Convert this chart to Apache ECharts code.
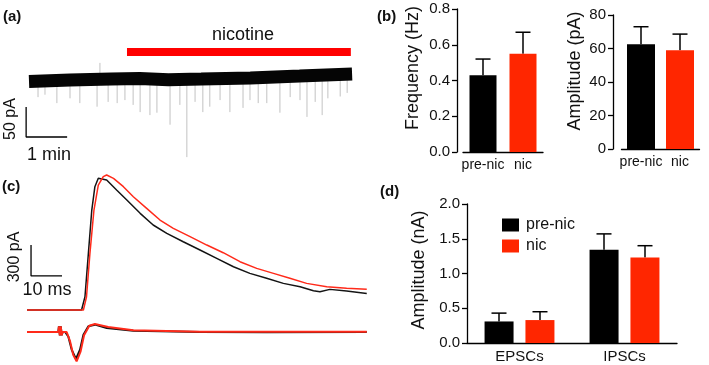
<!DOCTYPE html>
<html>
<head>
<meta charset="utf-8">
<script src="https://cdn.jsdelivr.net/npm/echarts@6/dist/echarts.min.js"></script>
<style>
  html, body { margin: 0; padding: 0; background: #fff; }
  #chart { width: 709px; height: 365px; }
</style>
</head>
<body>
<div id="chart"></div>
<script>
// ---- (a) spontaneous trace: time in min, current in pA ----
const bandTime = [0, 1, 2, 2.7, 3.4, 4.2, 5.4, 6.6, 7.88]
const bandLevel = [0, 2.5, 4, 5, 3, 4, 6, 9, 12.5]
// downward events [time (min), tip (pA)]
const spikes = [
  [0.22, -26], [0.39, -22], [0.68, -36], [1.0, -28], [1.24, -36], [1.66, -42], [1.73, 31],
  [1.93, -34], [2.15, -36], [2.34, -31], [2.54, -39], [2.71, -51], [2.95, -56], [3.12, -52],
  [3.44, -72], [3.68, -39], [3.85, -126], [4.05, -34], [4.24, -51], [4.41, -42], [4.66, -31],
  [4.90, -51], [5.22, -44], [5.39, -31], [5.59, -36], [5.80, -36], [6.12, -52], [6.37, -26],
  [6.61, -31], [6.78, -59], [6.98, -34], [7.15, -56], [7.29, -28], [7.59, -25], [7.76, -19]
]
const nicotineOn = [2.39, 7.85]

// ---- (b) mean ± SEM ----
const conds = ['pre-nic', 'nic']
const freqMean = [0.43, 0.55]
const freqSem = [0.09, 0.12]
const ampMean = [62.5, 59]
const ampSem = [10.5, 9.6]

// ---- (c) averaged traces: time in ms, current in pA ----
const ipscPreT = [0, 17.6, 18.7, 19.8, 20.9, 21.9, 23.0, 23.5, 25.7, 28.9, 32.2, 36.5, 40.7, 45.1, 50.4, 55.8, 61.2, 66.6, 71.9, 77.3, 82.7, 88.1, 92.4, 94.5, 97.7, 103.1, 109.6]
const ipscPreV = [0, 0, 129, 549, 968, 1194, 1275, 1291, 1258, 1162, 1065, 936, 823, 742, 661, 581, 500, 419, 355, 307, 258, 226, 187, 177, 200, 184, 161]
const ipscNicT = [0, 18.2, 19.2, 20.3, 21.6, 23.0, 24.6, 25.7, 27.9, 31.1, 34.3, 38.6, 42.9, 47.2, 52.6, 58.0, 63.3, 68.7, 74.1, 79.5, 84.8, 90.2, 96.7, 103.1, 109.6]
const ipscNicV = [0, 0, 129, 549, 968, 1210, 1291, 1307, 1275, 1194, 1097, 984, 871, 791, 710, 629, 555, 468, 403, 355, 307, 258, 226, 210, 200]
const epscPreT = [0, 10.1, 10.3, 10.6, 10.9, 11.2, 11.5, 12.3, 13.3, 14.4, 15.8, 17.1, 18.2, 19.8, 21.9, 25.7, 34.3, 55.8, 77.3, 109.6]
const epscPreV = [0, 0, 55, -32, 55, -32, 0, 0, -42, -171, -262, -171, -26, 55, 71, 39, 13, 0, -3, 0]
const epscNicT = [0, 10.1, 10.3, 10.6, 10.9, 11.2, 11.5, 12.8, 13.9, 14.9, 16.0, 17.3, 18.4, 20.1, 21.9, 26.2, 34.3, 55.8, 109.6]
const epscNicV = [0, 0, 55, -32, 55, -32, 0, 0, -91, -220, -284, -188, -32, 61, 77, 48, 16, 3, 3]

// ---- (d) mean ± SEM ----
const types = ['EPSCs', 'IPSCs']
const preMean = [0.31, 1.34]
const preSem = [0.12, 0.23]
const nicMean = [0.33, 1.23]
const nicSem = [0.12, 0.17]

const BLACK = '#000000'
const RED = '#ff2600'
const FONT = '"Liberation Sans", Arial, sans-serif'

const chart = echarts.init(document.getElementById('chart'))

const zip = (a, b) => a.map((v, i) => [v, b[i]])

const hiddenAxis = (grid, min, max) => ({ type: 'value', gridIndex: grid, min, max, show: false })

const catAxis = (grid, data, size) => ({
  type: 'category', gridIndex: grid, data,
  axisLine: { lineStyle: { color: '#000', width: 1.3 } },
  axisTick: { alignWithLabel: true, length: 4, lineStyle: { color: '#000', width: 1.3 } },
  axisLabel: { color: '#111', fontSize: size, fontFamily: FONT, margin: 6, interval: 0, hideOverlap: false }
})

const valAxis = (grid, max, interval, digits, offset) => ({
  type: 'value', gridIndex: grid, min: 0, max, interval, offset,
  splitLine: { show: false },
  axisLine: { show: true, lineStyle: { color: '#000', width: 1.3 } },
  axisTick: { show: true, length: 5, lineStyle: { color: '#000', width: 1.3 } },
  axisLabel: { color: '#111', fontSize: 15, fontFamily: FONT, margin: 7, formatter: v => v.toFixed(digits) }
})

function errSeries (xi, mean, sem, shift) {
  return {
    type: 'custom', xAxisIndex: xi, yAxisIndex: xi, silent: true,
    data: mean.map((m, i) => [i, m, m + sem[i]]),
    renderItem: (params, api) => {
      const base = api.coord([api.value(0), api.value(1)])
      const top = api.coord([api.value(0), api.value(2)])
      const x = base[0] + shift
      const st = { stroke: '#000', lineWidth: 1.5 }
      return {
        type: 'group',
        children: [
          { type: 'line', shape: { x1: x, y1: base[1], x2: x, y2: top[1] }, style: st },
          { type: 'line', shape: { x1: x - 7.5, y1: top[1], x2: x + 7.5, y2: top[1] }, style: st }
        ]
      }
    }
  }
}

const plainLine = (xi, data, color, width) => ({
  type: 'line', xAxisIndex: xi, yAxisIndex: xi, data, showSymbol: false, silent: true,
  lineStyle: { color, width }
})

function txt (x, y, text, size, opts = {}) {
  return {
    type: 'text', x, y, rotation: opts.rot || 0,
    style: {
      text, fill: '#111', fontSize: size, fontFamily: FONT, fontWeight: opts.bold ? 'bold' : 'normal',
      align: opts.align || 'center', verticalAlign: 'middle',
      textAlign: opts.align || 'center', textVerticalAlign: 'middle'
    }
  }
}

const option = {
  animation: false,
  grid: [
    { left: 24.9, top: 21.5, width: 332.1, height: 150 },
    { left: 463, top: 9, width: 80, height: 143 },
    { left: 621.5, top: 15, width: 78, height: 134 },
    { left: 27, top: 165.4, width: 341, height: 149.8 },
    { left: 27, top: 319.6, width: 341, height: 45.5 },
    { left: 467, top: 204, width: 210, height: 139 }
  ],
  xAxis: [
    hiddenAxis(0, -0.1, 8),
    catAxis(1, conds, 14),
    catAxis(2, conds, 14),
    hiddenAxis(3, 0, 110),
    hiddenAxis(4, 0, 110),
    catAxis(5, types, 15)
  ],
  yAxis: [
    hiddenAxis(0, -150, 100),
    valAxis(1, 0.8, 0.2, 1, 6),
    valAxis(2, 80, 20, 0, 8.5),
    hiddenAxis(3, -50, 1400),
    hiddenAxis(4, -320, 120),
    valAxis(5, 2, 0.5, 1, 0)
  ],
  legend: {
    data: ['pre-nic', 'nic'], orient: 'vertical', left: 497, top: 212,
    itemWidth: 17, itemHeight: 13, itemGap: 5, icon: 'rect',
    textStyle: { color: '#111', fontSize: 16, fontFamily: FONT, padding: [0, 0, 0, 2] }
  },
  graphic: [
    txt(3, 17, '(a)', 15, { bold: true, align: 'left' }),
    txt(377, 17, '(b)', 15, { bold: true, align: 'left' }),
    txt(2, 187, '(c)', 15, { bold: true, align: 'left' }),
    txt(380, 192, '(d)', 15, { bold: true, align: 'left' }),
    txt(243, 35, 'nicotine', 18),
    txt(11, 119, '50 pA', 16, { rot: Math.PI / 2 }),
    txt(49, 155, '1 min', 18),
    txt(15, 257, '300 pA', 16, { rot: Math.PI / 2 }),
    txt(47, 290, '10 ms', 18),
    txt(413, 68, 'Frequency (Hz)', 18, { rot: Math.PI / 2 }),
    txt(575, 71, 'Amplitude (pA)', 18, { rot: Math.PI / 2 }),
    txt(419, 270, 'Amplitude (nA)', 18, { rot: Math.PI / 2 })
  ],
  series: [
    // (a)
    {
      type: 'custom', xAxisIndex: 0, yAxisIndex: 0, silent: true, data: spikes,
      renderItem: (params, api) => {
        const a = api.coord([api.value(0), 5])
        const b = api.coord([api.value(0), api.value(1)])
        return { type: 'line', shape: { x1: a[0], y1: a[1], x2: b[0], y2: b[1] }, style: { stroke: '#a8a8a8', lineWidth: 0.7 } }
      }
    },
    plainLine(0, zip(bandTime, bandLevel), '#050505', 13),
    plainLine(0, nicotineOn.map(t => [t, 49]), '#ff0000', 8),
    plainLine(0, [[-0.07, -42.5], [-0.07, -92.5], [0.93, -92.5]], '#000', 1.3),
    // (b)
    {
      type: 'bar', name: 'freq', xAxisIndex: 1, yAxisIndex: 1, barWidth: 27,
      data: freqMean.map((v, i) => ({ value: v, itemStyle: { color: i ? RED : BLACK } }))
    },
    errSeries(1, freqMean, freqSem, 0),
    {
      type: 'bar', name: 'amp', xAxisIndex: 2, yAxisIndex: 2, barWidth: 28,
      data: ampMean.map((v, i) => ({ value: v, itemStyle: { color: i ? RED : BLACK } }))
    },
    errSeries(2, ampMean, ampSem, 0),
    // (c)
    plainLine(3, zip(ipscPreT, ipscPreV), '#141414', 1.5),
    plainLine(3, zip(ipscNicT, ipscNicV), '#ff2a1a', 1.5),
    plainLine(4, zip(epscPreT, epscPreV), '#141414', 2),
    plainLine(4, zip(epscNicT, epscNicV), '#ff2a1a', 2),
    plainLine(3, [[1.3, 630], [1.3, 330], [11.3, 330]], '#000', 1.3),
    // (d)
    {
      type: 'bar', name: 'pre-nic', xAxisIndex: 5, yAxisIndex: 5, barWidth: 29, barGap: '41%',
      itemStyle: { color: BLACK }, data: preMean
    },
    {
      type: 'bar', name: 'nic', xAxisIndex: 5, yAxisIndex: 5, barWidth: 29, barGap: '41%',
      itemStyle: { color: RED }, data: nicMean
    },
    errSeries(5, preMean, preSem, -20.5),
    errSeries(5, nicMean, nicSem, 20.5)
  ]
}

chart.setOption(option)
</script>
</body>
</html>
